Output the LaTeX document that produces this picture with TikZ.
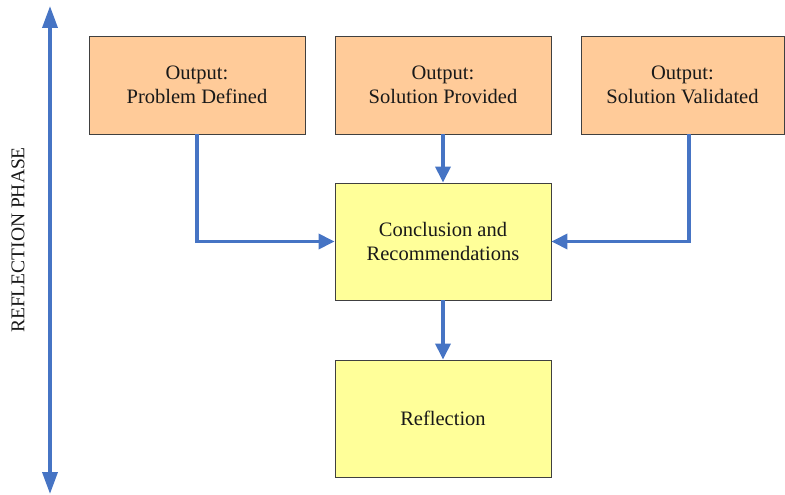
\documentclass[tikz,border=0pt]{standalone}
\usepackage{fontspec}
\setmainfont{Liberation Serif}
\usetikzlibrary{arrows.meta}
\definecolor{outorange}{HTML}{FFCB99}
\definecolor{stepyellow}{HTML}{FFFF99}
\definecolor{flowblue}{HTML}{4674C4}
\definecolor{boxline}{HTML}{404040}
\tikzset{
  box/.style={draw=boxline, line width=0.9pt, minimum width=216pt, align=center,
    font=\fontsize{20.5}{24}\selectfont, text=black!90, inner sep=0pt},
  outbox/.style={box, fill=outorange, minimum height=98pt},
  stepbox/.style={box, fill=stepyellow, minimum height=117pt},
  flow/.style={draw=flowblue, line width=3.6pt, -{Triangle[width=15pt,length=16pt]}},
  phase/.style={draw=flowblue, line width=3.6pt, {Triangle[width=15pt,length=22pt]}-{Triangle[width=15pt,length=22pt]}}
}
\begin{document}
\begin{tikzpicture}[x=1pt,y=-1pt]
\useasboundingbox (0,0) rectangle (785,495);
% output boxes along the top
\node[outbox] (pd) at (197,85) {Output:\\Problem Defined};
\node[outbox] (sp) at (443,85) {Output:\\Solution Provided};
\node[outbox, minimum width=203pt] (sv) at (682.5,85) {Output:\\Solution Validated};
% central steps
\node[stepbox] (cr) at (443,241.5) {Conclusion and\\Recommendations};
\node[stepbox] (rf) at (443,418.5) {Reflection};
% phase axis
\coordinate (ptop) at (50,6);
\coordinate (pbot) at (50,494);
\draw[phase] (ptop) -- (pbot);
\node[rotate=90, font=\fontsize{19.5}{22}\selectfont, text=black!90] (plabel) at (18,240) {REFLECTION PHASE};
% connectors
\draw[flow] (pd.south) |- (cr.west);
\draw[flow] (sv.south -| 689,0) |- (cr.east);
\draw[flow] (sp.south) -- (cr.north);
\draw[flow] (cr.south) -- (rf.north);
\end{tikzpicture}
\end{document}
